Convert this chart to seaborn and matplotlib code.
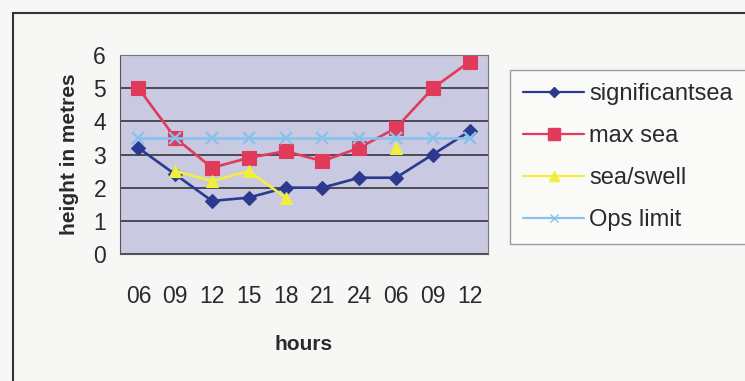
import numpy as np
import pandas as pd
import matplotlib.pyplot as plt
import matplotlib.patches as mpatches
import seaborn as sns

# Data
hours = ["06", "09", "12", "15", "18", "21", "24", "06", "09", "12"]
significant_sea = [3.2, 2.4, 1.6, 1.7, 2.0, 2.0, 2.3, 2.3, 3.0, 3.7]
max_sea = [5.0, 3.5, 2.6, 2.9, 3.1, 2.8, 3.2, 3.8, 5.0, 5.8]
sea_swell = [np.nan, 2.5, 2.2, 2.5, 1.7, np.nan, np.nan, 3.2, np.nan, np.nan]
ops_limit = [3.5, 3.5, 3.5, 3.5, 3.5, 3.5, 3.5, 3.5, 3.5, 3.5]

series = {
    "significantsea": (significant_sea, "#2b3a8f", "D", 7),
    "max sea": (max_sea, "#e23a5a", "s", 10),
    "sea/swell": (sea_swell, "#f2ef3c", "^", 9),
    "Ops limit": (ops_limit, "#86c2ec", "x", 8),
}

sns.set_style("white")
plt.rcParams["font.family"] = ["Liberation Sans", "DejaVu Sans"]

fig = plt.figure(figsize=(7.45, 3.81), dpi=100, facecolor="#f7f7f5")
ax = fig.add_axes([120 / 745, 1 - 254 / 381, 368 / 745, 199 / 381])
ax.set_facecolor("#c9c9e2")

pos = np.arange(len(hours))
handles = []
for name, (vals, color, marker, ms) in series.items():
    df = pd.DataFrame({"pos": pos, "value": vals})
    # split into runs so gaps in the data stay as gaps in the line
    df["seg"] = df["value"].isna().cumsum()
    df = df.dropna()
    for i, (_, seg) in enumerate(df.groupby("seg")):
        sns.lineplot(data=seg, x="pos", y="value", ax=ax, color=color,
                     marker=marker, markersize=ms, linewidth=1.9,
                     markeredgecolor=color, markeredgewidth=1.6 if marker == "x" else 0.8,
                     label=name if i == 0 else "_nolegend_", legend=False)
    handles.append(plt.Line2D([], [], color=color, marker=marker, markersize=ms * 0.8,
                              markeredgecolor=color, linewidth=1.6, label=name))

ax.set_xlim(-0.5, len(hours) - 0.5)
ax.set_ylim(0, 6)
ax.set_yticks(range(7))
ax.yaxis.grid(True, color="#4a4a55", linewidth=1.4)
ax.set_axisbelow(True)

# Excel-style category axis: tick marks between categories, labels centred
ax.set_xticks(np.arange(-0.5, len(hours), 1.0))
ax.set_xticklabels([])
ax.set_xticks(pos, minor=True)
ax.set_xticklabels(hours, minor=True)
ax.tick_params(axis="x", which="major", length=6, width=1, color="#444", direction="out")
ax.tick_params(axis="x", which="minor", length=0, pad=22, labelsize=16.5, labelcolor="#2a2a2a")
ax.tick_params(axis="y", length=5, width=1, color="#444", direction="out",
               labelsize=16.5, labelcolor="#2a2a2a", pad=5)

for side in ["top", "right"]:
    ax.spines[side].set_color("#777")
for side in ["left", "bottom"]:
    ax.spines[side].set_color("#555")

ax.set_xlabel("hours", fontsize=15, fontweight="bold", color="#2a2a2a", labelpad=20)
ax.set_ylabel("height in metres", fontsize=15, fontweight="bold", color="#2a2a2a", labelpad=10)

leg = fig.legend(handles=handles, loc="upper left", bbox_to_anchor=(510 / 745, 1 - 70 / 381),
                 borderaxespad=0, fontsize=17, frameon=True, fancybox=False, handlelength=2.6,
                 handletextpad=0.2, labelspacing=0.85, borderpad=0.55, labelcolor="#2a2a2a")
leg.get_frame().set_edgecolor("#888")
leg.get_frame().set_facecolor("#fbfbfb")
leg.get_frame().set_linewidth(1)

# scanned page frame
fig.patches.append(mpatches.Rectangle((13 / 745, -0.2), 1.2, 1.2 - 13 / 381,
                                      transform=fig.transFigure, fill=False,
                                      edgecolor="#333", linewidth=1.5))

fig.savefig("out.png", dpi=100, facecolor=fig.get_facecolor())
